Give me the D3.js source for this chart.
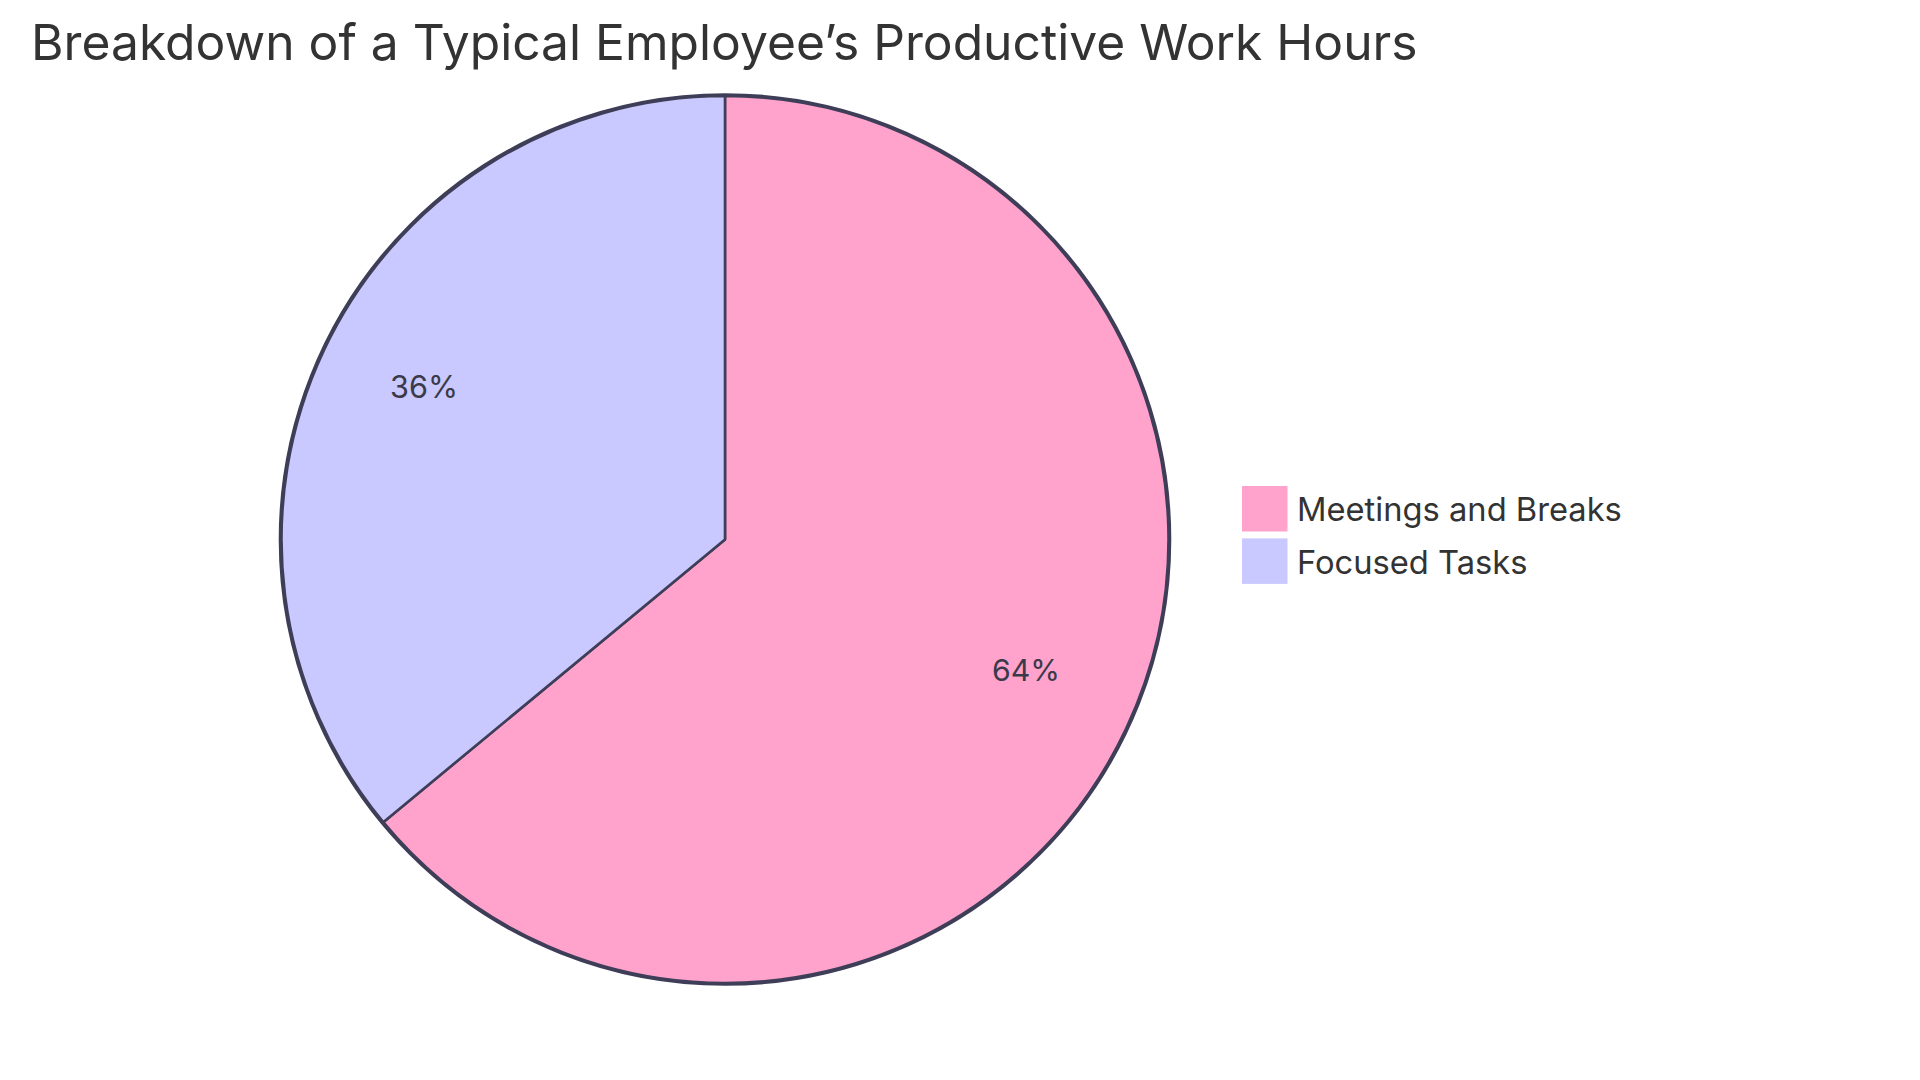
<!DOCTYPE html>
<html>
<head>
<meta charset="utf-8">
<script src="https://cdn.jsdelivr.net/npm/d3@7"></script>
<style>
  html, body { margin: 0; padding: 0; background: #ffffff; }
  svg { display: block; }
  text { font-family: Inter, "Open Sans", sans-serif; }
</style>
</head>
<body>
<svg id="chart" width="1920" height="1080"></svg>
<script>
const titleText = "Breakdown of a Typical Employee\u2019s Productive Work Hours";
const categories = ["Meetings and Breaks", "Focused Tasks"];
const values = [64, 36];
const colors = ["#FFA3CD", "#C9C9FF"];

const W = 1920, H = 1080;
const cx = 725, cy = 539.5, R = 443.5;
const strokeColor = "#3E3E58";
const textColor = "#333333";

const svg = d3.select("#chart");

// Title
const title = svg.append("text")
  .attr("x", 31).attr("y", 60)
  .attr("fill", textColor)
  .attr("font-size", 51)
  .text(titleText);
fitWidth(title, 1387);

const total = d3.sum(values);
const pie = d3.pie().sort(null).value(d => d)(values);
const arc = d3.arc().innerRadius(0).outerRadius(R);
const labelArc = d3.arc().innerRadius(R * 0.75).outerRadius(R * 0.75);

const g = svg.append("g").attr("transform", `translate(${cx},${cy})`);

// outer circle
g.append("circle")
  .attr("r", R + 1.2)
  .attr("fill", "none")
  .attr("stroke", strokeColor)
  .attr("stroke-width", 3.2);

g.selectAll("path.slice")
  .data(pie)
  .join("path")
  .attr("class", "slice")
  .attr("d", arc)
  .attr("fill", (d, i) => colors[i])
  .attr("stroke", strokeColor)
  .attr("stroke-width", 2.6)
  .attr("stroke-linejoin", "round");

g.selectAll("text.pct")
  .data(pie)
  .join("text")
  .attr("class", "pct")
  .attr("transform", d => {
    const c = labelArc.centroid(d);
    return `translate(${c[0]},${c[1]})`;
  })
  .attr("text-anchor", "middle")
  .attr("fill", "#3a3a48")
  .attr("font-size", 30)
  .text(d => Math.round(d.data / total * 100) + "%")
  .each(function() { fitWidth(d3.select(this), 68); });

// Legend
const legendX = 1242, legendY0 = 486, legendStep = 52.4, box = 45.5;
const legend = svg.append("g");
categories.forEach((c, i) => {
  const y = legendY0 + i * legendStep;
  legend.append("rect")
    .attr("x", legendX).attr("y", y)
    .attr("width", box).attr("height", box)
    .attr("fill", colors[i]);
  const t = legend.append("text")
    .attr("x", 1297).attr("y", y + box / 2 + 12.5)
    .attr("fill", textColor)
    .attr("font-size", 34)
    .text(c);
  if (i === 0) fitWidth(t, 325);
  else t.attr("font-size", legend.select("text").attr("font-size"));
});

function fitWidth(sel, target) {
  const w = sel.node().getComputedTextLength();
  const fs = +sel.attr("font-size");
  if (w > 0) sel.attr("font-size", (fs * target / w).toFixed(2));
}
</script>
</body>
</html>
